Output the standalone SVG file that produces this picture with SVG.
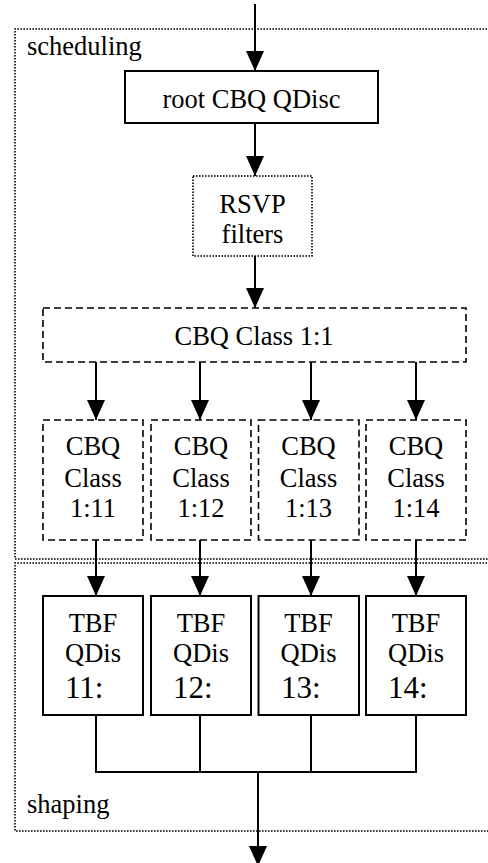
<svg xmlns="http://www.w3.org/2000/svg" width="488" height="863" viewBox="0 0 488 863">
  <defs>
    <style>
      text { font-family: "Liberation Serif", "Noto Serif", "DejaVu Serif", FreeSerif, "Nimbus Roman", "Times New Roman", serif; font-size: 26.5px; fill: #000; }
      .c { text-anchor: middle; }
      .big { font-size: 31px; }
      .region { fill: none; stroke: #000; stroke-width: 1.6; stroke-dasharray: 1.6 1.4; }
      .solid { fill: #fff; stroke: #000; stroke-width: 2; }
      .dotted { fill: #fff; stroke: #000; stroke-width: 1.6; stroke-dasharray: 1.6 1.4; }
      .dashed { fill: #fff; stroke: #000; stroke-width: 1.6; stroke-dasharray: 7 4; }
      .wire { fill: none; stroke: #000; stroke-width: 2; }
      .arrow { fill: none; stroke: #000; stroke-width: 2; marker-end: url(#ah); }
    </style>
    <marker id="ah" viewBox="0 0 20 18" refX="20" refY="9" markerWidth="20" markerHeight="18" markerUnits="userSpaceOnUse" orient="auto">
      <path d="M0,0 L20,9 L0,18 Z" fill="#000"/>
    </marker>
  </defs>
  <rect width="488" height="863" fill="#fff"/>

  <!-- regions -->
  <g id="region-scheduling">
    <path class="region" d="M490,29 H15 V559 H490"/>
    <text x="27" y="55">scheduling</text>
  </g>
  <g id="region-shaping">
    <path class="region" d="M490,563 H15 V831 H490"/>
    <text x="27" y="813">shaping</text>
  </g>

  <!-- connectors -->
  <g id="connectors">
    <path class="arrow" d="M255,4 V71"/>
    <path class="arrow" d="M255,123 V176"/>
    <path class="arrow" d="M255,256 V308"/>
    <path class="arrow" d="M96,362 V420"/>
    <path class="arrow" d="M200,362 V420"/>
    <path class="arrow" d="M311,362 V420"/>
    <path class="arrow" d="M416,362 V420"/>
    <path class="arrow" d="M96,540 V596"/>
    <path class="arrow" d="M200,540 V596"/>
    <path class="arrow" d="M311,540 V596"/>
    <path class="arrow" d="M416,540 V596"/>
    <path class="wire" d="M96,715 V772 H416 V715 M200,715 V772 M311,715 V772"/>
    <path class="arrow" d="M258,772 V866"/>
  </g>

  <!-- nodes -->
  <g id="root-qdisc">
    <rect class="solid" x="125" y="71" width="253" height="52"/>
    <text class="c" x="251.5" y="108">root CBQ QDisc</text>
  </g>
  <g id="rsvp-filters">
    <rect class="dotted" x="193" y="176" width="119" height="80"/>
    <text class="c" x="252.5" y="213">RSVP</text>
    <text class="c" x="252.5" y="243">filters</text>
  </g>
  <g id="class-1-1">
    <rect class="dashed" x="43" y="308" width="423" height="54"/>
    <text class="c" x="254" y="345">CBQ Class 1:1</text>
  </g>

  <g id="class-1-11">
    <rect class="dashed" x="43" y="420" width="100" height="120"/>
    <text class="c" x="93" y="455">CBQ</text>
    <text class="c" x="93" y="487">Class</text>
    <text class="c" x="93" y="517">1:11</text>
  </g>
  <g id="class-1-12">
    <rect class="dashed" x="151" y="420" width="100" height="120"/>
    <text class="c" x="201" y="455">CBQ</text>
    <text class="c" x="201" y="487">Class</text>
    <text class="c" x="201" y="517">1:12</text>
  </g>
  <g id="class-1-13">
    <rect class="dashed" x="258.5" y="420" width="100.5" height="120"/>
    <text class="c" x="308.5" y="455">CBQ</text>
    <text class="c" x="308.5" y="487">Class</text>
    <text class="c" x="308.5" y="517">1:13</text>
  </g>
  <g id="class-1-14">
    <rect class="dashed" x="366" y="420" width="100" height="120"/>
    <text class="c" x="416" y="455">CBQ</text>
    <text class="c" x="416" y="487">Class</text>
    <text class="c" x="416" y="517">1:14</text>
  </g>

  <g id="tbf-11">
    <rect class="solid" x="43" y="596" width="100" height="119"/>
    <text class="c" x="93" y="632">TBF</text>
    <text class="c" x="93" y="662">QDis</text>
    <text class="big" x="65" y="698">11:</text>
  </g>
  <g id="tbf-12">
    <rect class="solid" x="151" y="596" width="100" height="119"/>
    <text class="c" x="201" y="632">TBF</text>
    <text class="c" x="201" y="662">QDis</text>
    <text class="big" x="173" y="698">12:</text>
  </g>
  <g id="tbf-13">
    <rect class="solid" x="258.5" y="596" width="100.5" height="119"/>
    <text class="c" x="308.5" y="632">TBF</text>
    <text class="c" x="308.5" y="662">QDis</text>
    <text class="big" x="281" y="698">13:</text>
  </g>
  <g id="tbf-14">
    <rect class="solid" x="366" y="596" width="100" height="119"/>
    <text class="c" x="416" y="632">TBF</text>
    <text class="c" x="416" y="662">QDis</text>
    <text class="big" x="388" y="698">14:</text>
  </g>
</svg>
